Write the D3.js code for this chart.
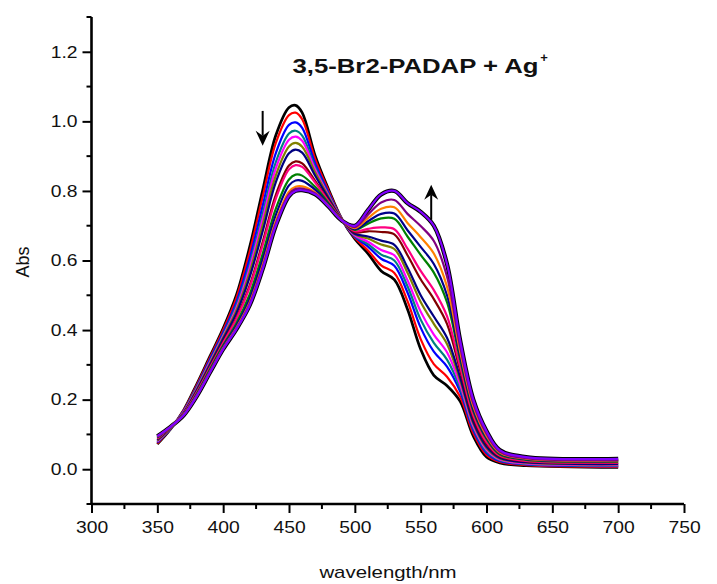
<!DOCTYPE html>
<html>
<head>
<meta charset="utf-8">
<script src="https://cdn.jsdelivr.net/npm/d3@7"></script>
<style>
  body { margin: 0; background: #fff; }
  svg text { font-family: "Liberation Sans", Arial, sans-serif; fill: #111; }
</style>
</head>
<body>
<svg id="chart" width="717" height="584"></svg>
<script>
// wavelengths (nm) shared by every spectrum
var wl = [350, 360, 370, 380, 390, 400, 410, 420, 430, 440, 450, 455, 460, 470, 480,
          490, 500, 510, 520, 530, 540, 550, 560, 570, 580, 590, 600, 610, 630, 700];

// absorbance of each titration step
var sBlack   = [0.072,0.115,0.170,0.245,0.325,0.405,0.500,0.637,0.802,0.960,1.040,1.046,1.025,0.900,0.805,0.720,0.662,0.620,0.570,0.545,0.460,0.345,0.270,0.240,0.195,0.095,0.035,0.018,0.010,0.005];
var sRed     = [0.074,0.116,0.169,0.242,0.321,0.400,0.492,0.623,0.783,0.938,1.018,1.025,1.006,0.891,0.801,0.720,0.665,0.629,0.586,0.564,0.483,0.374,0.302,0.266,0.208,0.103,0.041,0.021,0.012,0.007];
var sBlue    = [0.077,0.116,0.167,0.238,0.316,0.393,0.480,0.604,0.757,0.909,0.990,0.997,0.981,0.878,0.795,0.719,0.668,0.640,0.605,0.585,0.508,0.407,0.338,0.295,0.223,0.112,0.047,0.024,0.014,0.009];
var sTeal    = [0.079,0.117,0.166,0.235,0.311,0.387,0.471,0.587,0.734,0.883,0.965,0.973,0.959,0.867,0.790,0.719,0.670,0.647,0.617,0.600,0.526,0.430,0.363,0.315,0.233,0.118,0.051,0.026,0.015,0.010];
var sMagenta = [0.080,0.118,0.165,0.232,0.308,0.383,0.463,0.577,0.719,0.865,0.947,0.956,0.944,0.860,0.787,0.719,0.672,0.654,0.630,0.615,0.543,0.453,0.387,0.336,0.243,0.124,0.056,0.028,0.017,0.012];
var sOlive   = [0.082,0.118,0.163,0.230,0.304,0.379,0.456,0.564,0.702,0.845,0.928,0.938,0.927,0.852,0.783,0.718,0.675,0.663,0.646,0.633,0.565,0.481,0.418,0.360,0.255,0.131,0.061,0.031,0.019,0.014];
var sNavy    = [0.084,0.119,0.162,0.227,0.300,0.374,0.448,0.551,0.684,0.825,0.908,0.919,0.910,0.843,0.779,0.718,0.677,0.669,0.657,0.645,0.580,0.500,0.439,0.378,0.264,0.136,0.065,0.033,0.020,0.015];
var sMaroon  = [0.087,0.120,0.160,0.222,0.294,0.366,0.435,0.527,0.653,0.789,0.873,0.885,0.879,0.828,0.772,0.718,0.681,0.684,0.682,0.675,0.615,0.546,0.489,0.418,0.284,0.148,0.073,0.037,0.023,0.018];
var sPink    = [0.088,0.120,0.160,0.221,0.292,0.363,0.431,0.521,0.644,0.778,0.862,0.874,0.869,0.823,0.770,0.717,0.684,0.691,0.695,0.690,0.634,0.570,0.515,0.440,0.295,0.155,0.078,0.039,0.024,0.019];
var sGreen   = [0.091,0.121,0.158,0.217,0.287,0.356,0.419,0.501,0.619,0.749,0.833,0.847,0.844,0.811,0.765,0.717,0.688,0.706,0.721,0.720,0.669,0.616,0.565,0.480,0.315,0.167,0.087,0.043,0.027,0.022];
var sNavy2   = [0.092,0.121,0.157,0.214,0.283,0.352,0.412,0.489,0.603,0.731,0.816,0.830,0.829,0.803,0.761,0.716,0.690,0.713,0.734,0.735,0.687,0.639,0.590,0.500,0.325,0.173,0.091,0.046,0.029,0.024];
var sOrange  = [0.094,0.122,0.156,0.212,0.280,0.348,0.406,0.478,0.587,0.713,0.798,0.812,0.813,0.795,0.757,0.716,0.693,0.722,0.749,0.753,0.708,0.667,0.620,0.525,0.338,0.181,0.096,0.048,0.030,0.025];
var sPurple  = [0.094,0.122,0.155,0.211,0.279,0.346,0.403,0.474,0.581,0.706,0.791,0.806,0.807,0.793,0.756,0.716,0.696,0.732,0.767,0.774,0.734,0.699,0.656,0.554,0.352,0.189,0.102,0.051,0.032,0.027];
var sViolet  = [0.095,0.122,0.155,0.210,0.278,0.345,0.402,0.470,0.575,0.700,0.785,0.800,0.802,0.790,0.755,0.715,0.700,0.745,0.790,0.800,0.765,0.740,0.700,0.590,0.370,0.200,0.110,0.055,0.035,0.030];

var seriesList = [sBlack, sRed, sBlue, sTeal, sMagenta, sOlive, sNavy, sMaroon, sPink,
                  sGreen, sNavy2, sOrange, sPurple, sViolet];
var seriesColors = ["#000000", "#ff0000", "#0000ff", "#008080", "#ff00ff", "#808000", "#000080",
                    "#800000", "#ff0080", "#008000", "#00008b", "#ff8000", "#800080", "#8000ff"];

var xTicks = [300, 350, 400, 450, 500, 550, 600, 650, 700, 750];
var yTicks = [0.0, 0.2, 0.4, 0.6, 0.8, 1.0, 1.2];

// arrows: [wavelength, from abs, to abs]
var arrows = [[430, 1.03, 0.93], [558, 0.717, 0.818]];

var svg = d3.select("#chart");
var mLeft = 91.5, mRight = 684, mTop = 17, mBottom = 504;
var STRETCH = 1.17;

var x = d3.scaleLinear().domain([300, 750]).range([mLeft, mRight]);
var y = d3.scaleLinear().domain([-0.1, 1.3]).range([mBottom, mTop]);

function stretch(sel, k) {
  sel.each(function() {
    var len = this.getComputedTextLength();
    d3.select(this).attr("textLength", len * k).attr("lengthAdjust", "spacingAndGlyphs");
  });
}

// spectra
var line = d3.line()
  .x(function(d, i) { return x(wl[i]); })
  .y(function(d) { return y(d); })
  .curve(d3.curveCatmullRom.alpha(0.5));

var g = svg.append("g");
// dark edge under the final spectrum
g.append("path").attr("d", line(sViolet))
  .attr("fill", "none").attr("stroke", "#000").attr("stroke-width", 4.2);

g.selectAll("path.spec")
  .data(seriesList)
  .enter().append("path")
  .attr("class", "spec")
  .attr("d", line)
  .attr("fill", "none")
  .attr("stroke", function(d, i) { return seriesColors[i]; })
  .attr("stroke-width", function(d, i) { return i == 0 ? 2.7 : 2.2; })
  .attr("stroke-linejoin", "round");

// axes
var xAxis = d3.axisBottom(x).tickValues(xTicks).tickSize(9).tickPadding(5).tickFormat(d3.format("d"));
var yAxis = d3.axisLeft(y).tickValues(yTicks).tickSize(9).tickPadding(5).tickFormat(d3.format(".1f"));

var gx = svg.append("g").attr("transform", "translate(0," + mBottom + ")").call(xAxis);
var gy = svg.append("g").attr("transform", "translate(" + mLeft + ",0)").call(yAxis);

// minor ticks
gx.selectAll("line.minor").data(d3.range(325, 750, 50)).enter().append("line")
  .attr("x1", function(d) { return x(d); }).attr("x2", function(d) { return x(d); })
  .attr("y1", 0).attr("y2", 5).attr("stroke", "#000").attr("stroke-width", 2);
gy.selectAll("line.minor").data([-0.1, 0.1, 0.3, 0.5, 0.7, 0.9, 1.1, 1.3]).enter().append("line")
  .attr("y1", function(d) { return y(d); }).attr("y2", function(d) { return y(d); })
  .attr("x1", 0).attr("x2", -5).attr("stroke", "#000").attr("stroke-width", 2);

gx.select(".domain").attr("d", "M" + mLeft + ",0H" + mRight);
gy.select(".domain").attr("d", "M0," + mBottom + "V" + mTop);
[gx, gy].forEach(function(a) {
  a.select(".domain").attr("stroke", "#000").attr("stroke-width", 2.6);
  a.selectAll(".tick line").attr("stroke", "#000").attr("stroke-width", 2);
  a.selectAll(".tick text").attr("font-size", 16.5).attr("fill", "#111");
});
gx.selectAll(".tick text").attr("dy", "0.9em");
stretch(gx.selectAll(".tick text"), STRETCH);
stretch(gy.selectAll(".tick text"), STRETCH);

// axis titles
var xt = svg.append("text").attr("x", 388).attr("y", 578).attr("text-anchor", "middle")
  .attr("font-size", 17).text("wavelength/nm");
stretch(xt, 1.2);
svg.append("text").attr("transform", "translate(29,262) rotate(-90)")
  .attr("text-anchor", "middle").attr("font-size", 18).text("Abs");

// title
svg.append("text").attr("x", 292.5).attr("y", 73).attr("font-size", 20)
  .attr("font-weight", "bold").attr("textLength", 246).attr("lengthAdjust", "spacingAndGlyphs")
  .text("3,5-Br2-PADAP + Ag");
svg.append("text").attr("x", 544).attr("y", 62).attr("text-anchor", "middle")
  .attr("font-size", 13).attr("font-weight", "bold").text("+");

// arrows
arrows.forEach(function(a) {
  var ax = x(a[0]), y0 = y(a[1]), y1 = y(a[2]);
  var dir = y1 > y0 ? 1 : -1;
  svg.append("line").attr("x1", ax).attr("x2", ax).attr("y1", y0).attr("y2", y1 - dir * 10)
    .attr("stroke", "#000").attr("stroke-width", 2);
  svg.append("path")
    .attr("d", "M" + (ax - 7) + "," + (y1 - dir * 15) + "L" + ax + "," + y1 + "L" + (ax + 7) + "," + (y1 - dir * 15) + "L" + ax + "," + (y1 - dir * 10) + "Z")
    .attr("fill", "#000");
});
</script>
</body>
</html>
